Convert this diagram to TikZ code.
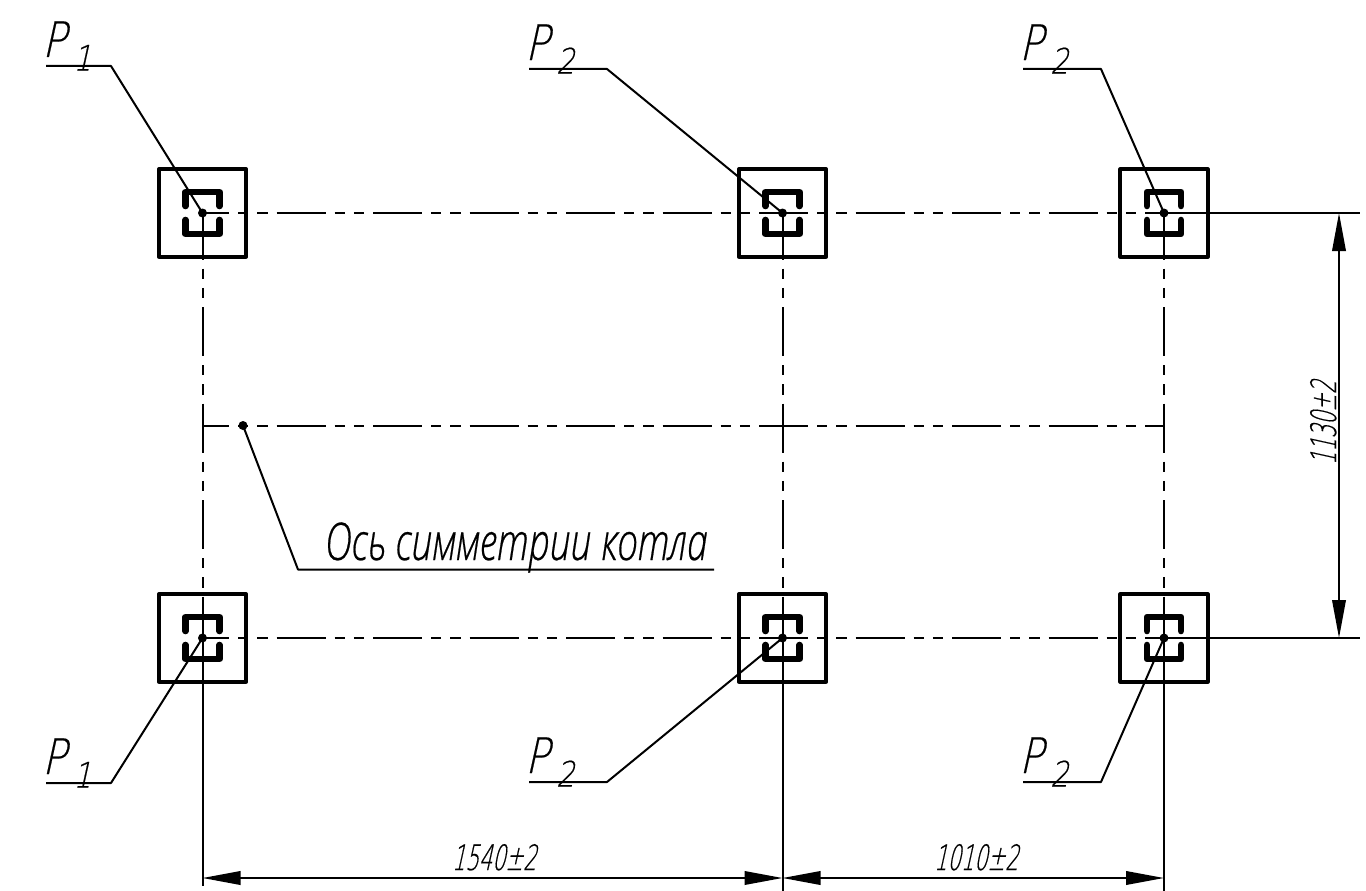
\documentclass[tikz,border=0pt]{standalone}
\usepackage{fontspec}
\newfontfamily\gost[FakeStretch=0.6,FakeSlant=0.22,FakeBold=0.4]{DejaVu Sans ExtraLight}
\newfontfamily\gostw[FakeStretch=0.82,FakeSlant=0.22,FakeBold=0.4]{DejaVu Sans ExtraLight}
\newfontfamily\gostc[FakeStretch=0.717,FakeBold=0.4]{Open Sans Light}
\usetikzlibrary{arrows.meta,calc}
\tikzset{
  x=1pt,y=-1pt,
  every node/.style={inner sep=0pt,outer sep=0pt},
  thinl/.style={line width=2pt,black},
  axisl/.style={thinl,dash pattern=on 49pt off 9pt on 10.25pt off 9pt on 10.25pt off 9pt},
  outerbox/.style={draw,line width=3.6pt,minimum width=87.5pt,minimum height=87.5pt,line join=round},
  dotn/.style={circle,fill=black,minimum size=9pt},
  dimarrow/.style={thinl,{Triangle[length=38pt,width=13.5pt,fill=black]}-{Triangle[length=38pt,width=13.5pt,fill=black]},shorten <=0pt,shorten >=0pt},
  lab/.style={font=\gost\fontsize{#1}{#1}\selectfont,anchor=base west,text=black},
  lab/.default=35pt
}
\newcommand{\bracketpair}[1]{%
  \draw[line width=6.6pt,line join=round,line cap=round,shift={(#1)}]
    (-17,-7) -- (-17,-21) -- (17,-21) -- (17,-7)
    (-17,7) -- (-17,21) -- (17,21) -- (17,7);}
\begin{document}
\begin{tikzpicture}
\useasboundingbox (0,0) rectangle (1366,891);
% centres
\node[outerbox] (a1) at (202.5,213) {};
\node[outerbox] (a2) at (782.5,213) {};
\node[outerbox] (a3) at (1164,213) {};
\node[outerbox] (b1) at (202.5,638) {};
\node[outerbox] (b2) at (782.5,638) {};
\node[outerbox] (b3) at (1164,638) {};
\bracketpair{a1.center}\bracketpair{a2.center}\bracketpair{a3.center}
\bracketpair{b1.center}\bracketpair{b2.center}\bracketpair{b3.center}
% axes
\draw[axisl,dash phase=22.5pt] (a1.center) -- (a3.center);
\draw[axisl,dash phase=22.5pt] (b1.center) -- (b3.center);
\draw[axisl,dash phase=2.5pt] (a1.center) -- (b1.center);
\draw[axisl,dash phase=2.5pt] (a2.center) -- (b2.center);
\draw[axisl,dash phase=2.5pt] (a3.center) -- (b3.center);
\coordinate (m1) at (202.5,425.5);
\coordinate (m3) at (1164,425.5);
\draw[axisl,dash phase=22.5pt] (m1) -- (m3);
% extension lines
\coordinate (ex1) at (1360,213);
\coordinate (ex2) at (1360,638);
\coordinate (ey1) at (202.5,886);
\coordinate (ey2) at (782.5,891);
\coordinate (ey3) at (1164,891);
\draw[thinl] (a3.center) -- (ex1);
\draw[thinl] (b3.center) -- (ex2);
\draw[thinl] (b1.center) -- (ey1);
\draw[thinl] (b2.center) -- (ey2);
\draw[thinl] (b3.center) -- (ey3);
% dimensions
\coordinate (dA) at (1339,213);
\coordinate (dB) at (1339,638);
\coordinate (dC) at (202.5,878);
\coordinate (dD) at (782.5,878);
\coordinate (dE) at (1164,878);
\draw[dimarrow] (dA) -- (dB);
\draw[dimarrow] (dC) -- (dD);
\draw[dimarrow] (dD) -- (dE);
\node[lab] (t1) at (452,870) {1540±2};
\node[lab] (t2) at (934,870) {1010±2};
\node[lab,rotate=90] (t3) at (1336,465) {1130±2};
% leaders
\foreach \n/\s/\lx/\kx/\ly/\c in {
  la/1/46/111/66/a1,
  lb/2/529/607/69/a2,
  lc/2/1023/1101/69/a3,
  ld/1/46/111/783/b1,
  le/2/529/607/782/b2,
  lf/2/1023/1101/782/b3}{
  \coordinate (\n s) at (\lx,\ly);
  \coordinate (\n k) at (\kx,\ly);
  \node[dotn] (\n d) at (\c.center) {};
  \draw[thinl,line join=round] (\n s) -- (\n k) -- (\n d.center);
  \node[anchor=base west] (\n t) at ($(\lx,\ly)+(-4,-9)$) {\gostw\fontsize{49}{49}\selectfont P\kern 7pt\raisebox{-13.5pt}{\fontsize{35}{35}\selectfont\s}};
}
% axis of symmetry
\node[dotn] (sym) at (243,425.5) {};
\coordinate (symk) at (298,569.5);
\coordinate (syme) at (714,569.5);
\draw[thinl,line join=round] (sym.center) -- (symk) -- (syme);
\node[anchor=base west,font=\gostc\itshape\fontsize{52}{52}\selectfont] (symt) at (325,560) {Ось симметрии котла};
\end{tikzpicture}
\end{document}
